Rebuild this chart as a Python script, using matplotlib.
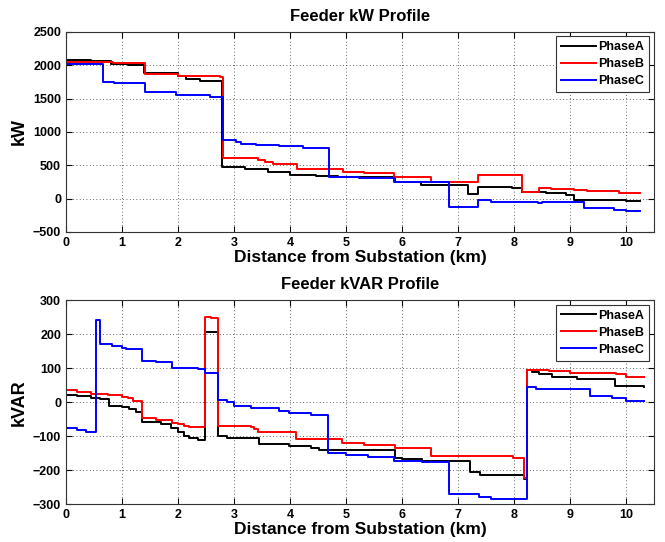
import matplotlib
matplotlib.use("Agg")
import matplotlib.pyplot as plt
import numpy as np

plt.rcParams['font.family'] = ['Liberation Sans', 'DejaVu Sans']
plt.rcParams['font.weight'] = 'bold'

# distancia (km) onde cada trecho comeca, valores por fase (kW)
a_x = [0, 0.45, 0.8, 1.1, 1.4, 2.0, 2.15, 2.4, 2.78, 3.2, 3.6, 4.0, 4.47, 4.85, 5.88, 6.35,
       7.18, 7.36, 7.97, 8.15, 8.57, 8.93, 9.07, 10.0, 10.26]
a_kw = [2080, 2060, 2020, 2000, 1880, 1840, 1790, 1760, 470, 450, 400, 360, 340, 330, 250, 205,
        65, 180, 155, 105, 80, 60, -20, -40, -40]

b_x = [0, 0.84, 1.41, 2.0, 2.75, 2.8, 3.43, 3.55, 3.7, 4.13, 4.94, 5.33, 5.86, 6.52, 7.36,
       8.15, 8.45, 8.66, 9.07, 9.3, 9.87, 10.26]
b_kw = [2050, 2040, 1870, 1845, 1830, 605, 580, 555, 520, 445, 405, 380, 330, 245, 355,
        105, 165, 145, 130, 110, 90, 90]

c_x = [0, 0.66, 0.86, 1.41, 1.97, 2.58, 2.8, 3.04, 3.13, 3.4, 3.8, 4.23, 4.69, 5.24, 5.86,
       6.84, 7.36, 7.6, 8.1, 8.43, 8.5, 9.25, 9.79, 10.0, 10.26]
c_kw = [2015, 1745, 1730, 1600, 1555, 1520, 880, 855, 820, 805, 790, 765, 330, 310, 245,
        -120, -20, -45, -55, -70, -50, -135, -170, -180, -180]

# kVAR
a_x2 = [0, 0.2, 0.45, 0.6, 0.77, 1.0, 1.12, 1.25, 1.35, 1.69, 1.87, 2.0, 2.1, 2.2, 2.35,
        2.49, 2.72, 2.87, 3.44, 3.98, 4.37, 4.52, 4.84, 5.88, 6.0, 6.36, 7.21, 7.39, 8.18,
        8.23, 8.33, 8.45, 8.69, 9.12, 9.8, 10.33]
a_kvar = [22, 18, 12, 8, -12, -15, -20, -30, -58, -65, -77, -88, -101, -105, -112,
          207, -100, -105, -123, -130, -135, -140, -142, -165, -168, -172, -207, -213, -226,
          95, 90, 82, 75, 68, 49, 46]

b_x2 = [0, 0.2, 0.45, 0.75, 1.0, 1.1, 1.2, 1.35, 1.6, 1.9, 2.0, 2.1, 2.2, 2.48, 2.59,
        2.72, 3.3, 3.35, 3.43, 4.1, 4.93, 5.32, 5.88, 6.52, 7.99, 8.18, 8.23, 8.62, 9.0,
        9.36, 9.83, 10.0, 10.33]
b_kvar = [36, 31, 25, 20, 16, 12, 3, -47, -52, -60, -65, -69, -73, 252, 248,
          -69, -72, -80, -87, -108, -121, -125, -135, -158, -163, -224, 95, 92, 87,
          85, 82, 75, 75]

c_x2 = [0, 0.2, 0.35, 0.53, 0.6, 0.83, 1.0, 1.08, 1.35, 1.6, 1.9, 2.36, 2.48, 2.72, 2.87,
        3.0, 3.3, 3.8, 3.99, 4.37, 4.68, 5.0, 5.4, 5.86, 6.36, 6.85, 7.37, 7.6, 8.23, 8.4,
        9.36, 9.75, 10.0, 10.33]
c_kvar = [-77, -82, -87, 242, 170, 165, 160, 157, 122, 119, 102, 98, 87, 7, 0,
          -11, -18, -25, -32, -37, -150, -155, -160, -172, -175, -270, -280, -285, 46, 40,
          17, 12, 4, 4]

fases = ["PhaseA", "PhaseB", "PhaseC"]
cores = ["black", "red", "blue"]


def desenha(ax, series, titulo, ylabel, ylim, yticks):
    for (x, y), nome, cor in zip(series, fases, cores):
        ax.step(x, y, where="post", color=cor, lw=1.4, label=nome)
    ax.set_xlim(0, 10.5)
    ax.set_ylim(*ylim)
    ax.set_xticks(range(0, 11))
    ax.set_yticks(yticks)
    ax.grid(True, color="#333333", linestyle=(0, (1, 3)), linewidth=0.6)
    ax.tick_params(direction="in", top=True, right=True, labelsize=9, length=4)
    for sp in ax.spines.values():
        sp.set_color("#333333")
    ax.set_title(titulo, fontsize=12, fontweight="bold", pad=8)
    ax.set_xlabel("Distance from Substation (km)", fontsize=12.5, fontweight="bold", labelpad=1)
    ax.set_ylabel(ylabel, fontsize=13, fontweight="bold", labelpad=4)
    leg = ax.legend(loc="upper right", fontsize=9, fancybox=False, framealpha=1,
                    edgecolor="#333333", borderaxespad=0.35, handlelength=2.8,
                    labelspacing=0.4, borderpad=0.4, handletextpad=0.2)
    leg.get_frame().set_linewidth(0.8)


fig = plt.figure(figsize=(6.65, 5.42), dpi=100)
ax1 = fig.add_axes([0.0992, 0.572, 0.884, 0.369])
ax2 = fig.add_axes([0.0992, 0.070, 0.884, 0.376])

desenha(ax1, [(a_x, a_kw), (b_x, b_kw), (c_x, c_kw)], "Feeder kW Profile", "kW",
        (-500, 2500), range(-500, 2501, 500))
desenha(ax2, [(a_x2, a_kvar), (b_x2, b_kvar), (c_x2, c_kvar)], "Feeder kVAR Profile", "kVAR",
        (-300, 300), range(-300, 301, 100))

fig.savefig("out.png", dpi=100)
